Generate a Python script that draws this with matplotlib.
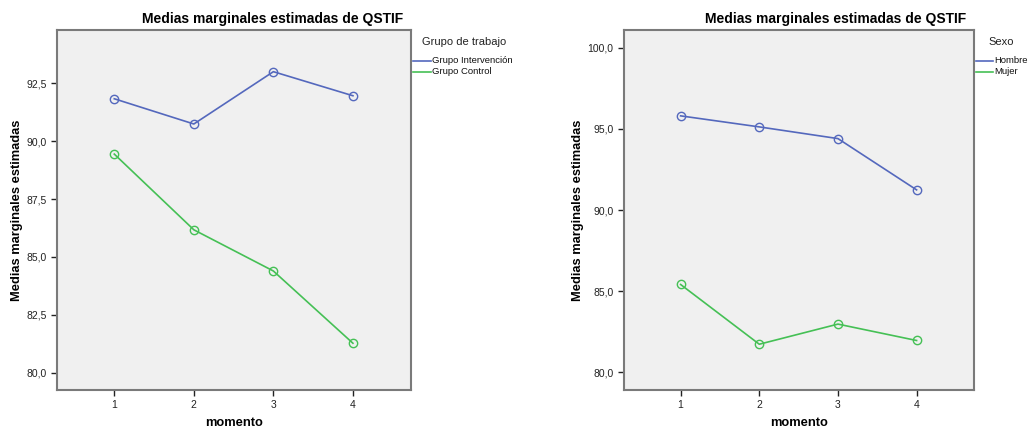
import matplotlib
matplotlib.use("Agg")
import matplotlib.pyplot as plt
from matplotlib.lines import Line2D

plt.rcParams['font.family'] = ['Liberation Sans', 'DejaVu Sans']

# Datos
momento = [1, 2, 3, 4]

grupo_labels = ["Grupo Intervención", "Grupo Control"]
grupo_intervencion = [91.83, 90.74, 93.00, 91.96]
grupo_control = [89.44, 86.17, 84.39, 81.27]
grupo_yticks = [80.0, 82.5, 85.0, 87.5, 90.0, 92.5]

sexo_labels = ["Hombre", "Mujer"]
hombre = [95.80, 95.12, 94.40, 91.24]
mujer = [85.41, 81.73, 82.97, 81.96]
sexo_yticks = [80.0, 85.0, 90.0, 95.0, 100.0]

TITLE = "Medias marginales estimadas de QSTIF"
YLABEL = "Medias marginales estimadas"
XLABEL = "momento"

BLUE = "#5468bd"
GREEN = "#45c055"
BG = "#f0f0f0"

W, H = 1028, 430
fig = plt.figure(figsize=(W / 100, H / 100), dpi=100)


def panel(rect, series, labels, yticks, ylim, leg_title, title_x, leg_x, line_x, ylab_x):
    l, b, w, h = rect
    ax = fig.add_axes([l / W, b / H, w / W, h / H])
    ax.set_facecolor(BG)
    for vals, col in zip(series, [BLUE, GREEN]):
        ax.plot(momento, vals, color=col, linewidth=1.2, marker='o', markersize=6,
                markerfacecolor='none', markeredgecolor=col, markeredgewidth=1.0)
    ax.set_xlim(0.28, 4.73)
    ax.set_ylim(*ylim)
    ax.set_xticks(momento)
    ax.set_xticklabels([str(m) for m in momento])
    ax.set_yticks(yticks)
    ax.set_yticklabels([f"{v:.1f}".replace('.', ',') for v in yticks])
    ax.tick_params(axis='both', labelsize=7.5, colors='#222222', length=4, width=1)
    for s in ax.spines.values():
        s.set_color('#7a7a7a')
        s.set_linewidth(1.5)
    # etiquetas de ejes
    fig.text((l + w / 2) / W, 1 - 423 / H, XLABEL, fontsize=9.3, fontweight='bold',
             ha='center', va='center')
    fig.text(ylab_x / W, (b + h / 2) / H, YLABEL, fontsize=9.3, fontweight='bold',
             ha='center', va='center', rotation=90)
    fig.text(title_x / W, 1 - 19 / H, TITLE, fontsize=10, fontweight='bold',
             ha='center', va='center')
    # leyenda manual
    fig.text(leg_x / W, 1 - 42 / H, leg_title, fontsize=8, color='#222222',
             ha='left', va='center')
    for i, (lab, col) in enumerate(zip(labels, [BLUE, GREEN])):
        yy = 1 - (60.5 + 11 * i) / H
        fig.add_artist(Line2D([line_x[0] / W, line_x[1] / W], [yy, yy], color=col,
                              linewidth=1.2, transform=fig.transFigure))
        fig.text((line_x[1] + 1) / W, yy, lab, fontsize=6.8, color='#111111',
                 ha='left', va='center')
    return ax


panel((57, 40, 354, 360), [grupo_intervencion, grupo_control], grupo_labels,
      grupo_yticks, (79.25, 94.8), "Grupo de trabajo", 273, 422, (413, 431), 17)
panel((624, 40, 350, 360), [hombre, mujer], sexo_labels,
      sexo_yticks, (78.91, 101.09), "Sexo", 836, 988, (976, 993), 578)

fig.savefig("out.png", dpi=100)
